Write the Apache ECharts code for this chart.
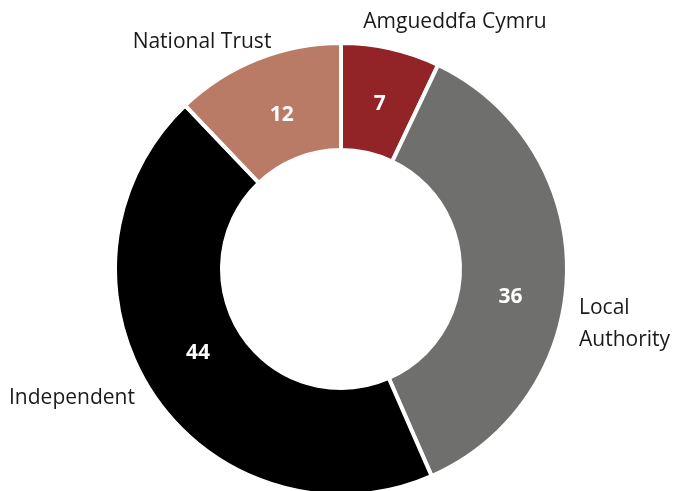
<!DOCTYPE html>
<html>
<head>
<meta charset="utf-8">
<script src="https://cdn.jsdelivr.net/npm/echarts@6/dist/echarts.min.js"></script>
<style>html,body{margin:0;padding:0;background:#fff;}#c{width:673px;height:491px;}</style>
</head>
<body>
<div id="c"></div>
<script>
const categories = ['Amgueddfa Cymru', 'Local Authority', 'Independent', 'National Trust'];
const values = [7, 36, 44, 12];
const colors = ['#922427', '#6F6F6E', '#000000', '#B97A66'];
const nameLabels = ['Amgueddfa Cymru', 'Local\nAuthority', 'Independent', 'National Trust'];
const labelPos = [
  {x: 455, y: 22, align: 'center'},
  {x: 579, y: 324, align: 'left'},
  {x: 9, y: 398, align: 'left'},
  {x: 202, y: 42, align: 'center'}
];
const valueOffsets = [
  {dx: 0, dy: 6},
  {dx: -6, dy: 25},
  {dx: 3, dy: -13},
  {dx: 6, dy: 9}
];

const chart = echarts.init(document.getElementById('c'), null, {renderer: 'canvas'});
const font = '"Open Sans", "Noto Sans", sans-serif';
chart.setOption({
  animation: false,
  series: [
    {
      type: 'pie',
      center: [341, 269],
      radius: [119, 226],
      startAngle: 90,
      clockwise: true,
      data: categories.map((c, i) => ({name: c, value: values[i], itemStyle: {color: colors[i]}})),
      itemStyle: {borderColor: '#fff', borderWidth: 4},
      label: {
        show: true, position: 'inside', formatter: '{c}',
        color: '#fff', fontWeight: 'bold', fontSize: 21, fontFamily: font
      },
      labelLine: {show: false},
      labelLayout: p => valueOffsets[p.dataIndex],
      emphasis: {disabled: true}
    },
    {
      type: 'pie',
      center: [341, 269],
      radius: [119, 226],
      startAngle: 90,
      clockwise: true,
      silent: true,
      data: categories.map((c, i) => ({name: c, value: values[i]})),
      itemStyle: {color: 'rgba(0,0,0,0)', borderWidth: 0},
      label: {
        show: true, position: 'outside', overflow: 'none', width: 300,
        formatter: p => nameLabels[p.dataIndex],
        color: '#1a1a1a', fontSize: 21, fontFamily: font, lineHeight: 32
      },
      labelLine: {show: false},
      labelLayout: p => Object.assign({verticalAlign: 'middle'}, labelPos[p.dataIndex]),
      emphasis: {disabled: true}
    }
  ]
});
</script>
</body>
</html>
